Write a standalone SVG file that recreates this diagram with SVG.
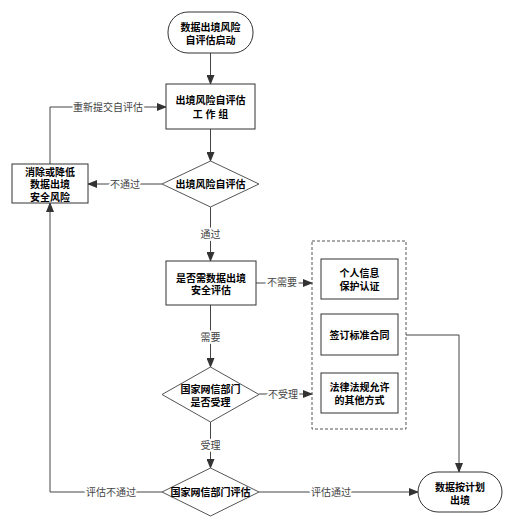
<svg xmlns="http://www.w3.org/2000/svg" width="518" height="530" viewBox="0 0 518 530">
<style>
.node{fill:#fff;stroke:#333;stroke-width:1}
.dia{fill:#fff;stroke:#555;stroke-width:1}
.nt{font-family:"Liberation Sans","Noto Sans CJK SC",sans-serif;font-size:10px;font-weight:bold;fill:#000;text-anchor:middle}
.lbl{font-family:"Liberation Sans","Noto Sans CJK SC",sans-serif;font-size:10px;fill:#444;text-anchor:middle;stroke:#fff;stroke-width:4px;paint-order:stroke;stroke-linejoin:round}
.edge{fill:none;stroke:#444;stroke-width:1}
</style>
<defs>
<marker id="arr" markerWidth="10" markerHeight="8" refX="9" refY="4" orient="auto" markerUnits="userSpaceOnUse">
<path d="M0,0 L10,4 L0,8 Z" fill="#333"/>
</marker>
</defs>
<rect width="518" height="530" fill="#fff"/>
<g id="connectors">
<path class="edge" d="M210.5,53 V84" marker-end="url(#arr)"/>
<path class="edge" d="M210.5,129 V161" marker-end="url(#arr)"/>
<path class="edge" d="M162,184 H88" marker-end="url(#arr)"/>
<path class="edge" d="M50,164 V107 H166" marker-end="url(#arr)"/>
<path class="edge" d="M210.5,207 V261" marker-end="url(#arr)"/>
<path class="edge" d="M256,283 H312" marker-end="url(#arr)"/>
<path class="edge" d="M210.5,305 V367" marker-end="url(#arr)"/>
<path class="edge" d="M259,394 H312" marker-end="url(#arr)"/>
<path class="edge" d="M210.5,422 V468" marker-end="url(#arr)"/>
<path class="edge" d="M162,492 H50 V203" marker-end="url(#arr)"/>
<path class="edge" d="M259,492 H418" marker-end="url(#arr)"/>
<path class="edge" d="M406,335 H459 V472" marker-end="url(#arr)"/>
<text class="lbl" x="108" y="110.5">重新提交自评估</text>
<text class="lbl" x="125" y="187.5">不通过</text>
<text class="lbl" x="210.5" y="237.5">通过</text>
<text class="lbl" x="282" y="286">不需要</text>
<text class="lbl" x="210.5" y="340.5">需要</text>
<text class="lbl" x="283" y="397.5">不受理</text>
<text class="lbl" x="210.5" y="448.5">受理</text>
<text class="lbl" x="111" y="495.5">评估不通过</text>
<text class="lbl" x="331" y="495.5">评估通过</text>
</g>
<g id="start">
<rect class="node" x="168" y="12" width="85" height="41" rx="20"/>
<text class="nt" x="210.5" y="30.5">数据出境风险</text>
<text class="nt" x="210.5" y="43.5">自评估启动</text>
</g>
<g id="workgroup">
<rect class="node" x="166" y="84" width="89" height="45"/>
<text class="nt" x="210.5" y="103.5">出境风险自评估</text>
<text class="nt" x="210.5" y="117.5">工 作 组</text>
</g>
<g id="selfassess">
<path class="dia" d="M210.5,161 L259,184 L210.5,207 L162,184 Z"/>
<text class="nt" x="210.5" y="187.5">出境风险自评估</text>
</g>
<g id="mitigate">
<rect class="node" x="12" y="164" width="76" height="39"/>
<text class="nt" x="50" y="175.5">消除或降低</text>
<text class="nt" x="50" y="187.5">数据出境</text>
<text class="nt" x="50" y="200.5">安全风险</text>
</g>
<g id="needassess">
<rect class="node" x="166" y="261" width="90" height="44"/>
<text class="nt" x="211" y="281.5">是否需数据出境</text>
<text class="nt" x="211" y="293.5">安全评估</text>
</g>
<g id="alternatives">
<rect x="312" y="241" width="94" height="188" fill="none" stroke="#555" stroke-width="1" stroke-dasharray="3,2"/>
</g>
<g id="cert">
<rect class="node" x="321" y="259" width="77" height="40"/>
<text class="nt" x="359.5" y="276.5">个人信息</text>
<text class="nt" x="359.5" y="289.5">保护认证</text>
</g>
<g id="contract">
<rect class="node" x="321" y="314" width="77" height="41"/>
<text class="nt" x="359.5" y="338.5">签订标准合同</text>
</g>
<g id="other">
<rect class="node" x="321" y="373" width="77" height="40"/>
<text class="nt" x="359.5" y="390.5">法律法规允许</text>
<text class="nt" x="359.5" y="403.5">的其他方式</text>
</g>
<g id="accept">
<path class="dia" d="M210.5,367 L259,394.5 L210.5,422 L162,394.5 Z"/>
<text class="nt" x="210.5" y="392.5">国家网信部门</text>
<text class="nt" x="210.5" y="405.5">是否受理</text>
</g>
<g id="cacassess">
<path class="dia" d="M210.5,468 L259,492 L210.5,516 L162,492 Z"/>
<text class="nt" x="210.5" y="495.5">国家网信部门评估</text>
</g>
<g id="end">
<rect class="node" x="418" y="472" width="84" height="40" rx="20"/>
<text class="nt" x="460" y="490.5">数据按计划</text>
<text class="nt" x="460" y="503.5">出境</text>
</g>
</svg>
